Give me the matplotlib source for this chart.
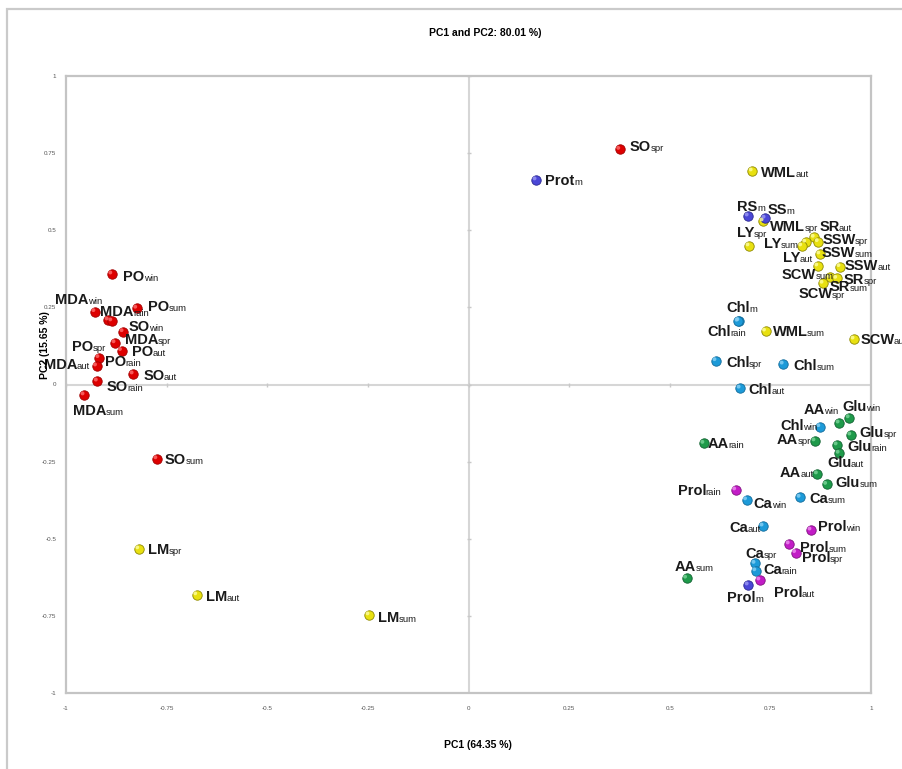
import matplotlib
matplotlib.use("Agg")
import matplotlib.pyplot as plt
from matplotlib.patches import Rectangle
from matplotlib.transforms import ScaledTranslation
from matplotlib.offsetbox import TextArea, HPacker, AnnotationBbox

plt.rcParams["font.family"] = ["Liberation Sans", "DejaVu Sans"]

# PC loadings per variable, grouped by marker colour ("name_season")
red_names = ["PO_win", "MDA_win", "MDA_rain", "PO_spr", "PO_sum", "SO_win", "MDA_spr",
             "PO_aut", "PO_rain", "MDA_aut", "SO_aut", "SO_rain", "MDA_sum", "SO_sum", "SO_spr"]
red_pc1 = [-0.886, -0.928, -0.895, -0.886, -0.824, -0.858, -0.878,
           -0.862, -0.918, -0.924, -0.833, -0.922, -0.955, -0.774, 0.376]
red_pc2 = [0.358, 0.236, 0.209, 0.206, 0.247, 0.171, 0.135,
           0.110, 0.087, 0.060, 0.034, 0.011, -0.034, -0.241, 0.762]

yellow_names = ["WML_aut", "WML_spr", "LY_spr", "SR_aut", "SSW_spr", "LY_sum", "LY_aut",
                "SSW_sum", "SCW_sum", "SSW_aut", "SR_sum", "SR_spr", "SCW_spr", "WML_sum",
                "SCW_aut", "LM_spr", "LM_aut", "LM_sum"]
yellow_pc1 = [0.705, 0.732, 0.697, 0.859, 0.869, 0.838, 0.828,
              0.873, 0.868, 0.923, 0.898, 0.915, 0.881, 0.738,
              0.958, -0.819, -0.675, -0.247]
yellow_pc2 = [0.692, 0.530, 0.449, 0.477, 0.463, 0.461, 0.449,
              0.423, 0.384, 0.382, 0.347, 0.344, 0.328, 0.173,
              0.147, -0.533, -0.682, -0.747]

violet_names = ["Prot_m", "RS_m", "SS_m", "Prol_m"]
violet_pc1 = [0.168, 0.695, 0.737, 0.695]
violet_pc2 = [0.663, 0.546, 0.539, -0.650]

cyan_names = ["Chl_m", "Chl_rain", "Chl_spr", "Chl_sum", "Chl_aut", "Chl_win",
              "Ca_win", "Ca_sum", "Ca_aut", "Ca_spr", "Ca_rain"]
cyan_pc1 = [0.672, 0.670, 0.615, 0.782, 0.675, 0.873, 0.691, 0.824, 0.732, 0.712, 0.714]
cyan_pc2 = [0.207, 0.205, 0.077, 0.066, -0.012, -0.137, -0.374, -0.366, -0.459, -0.580, -0.604]

green_names = ["AA_win", "Glu_win", "Glu_spr", "Glu_rain", "Glu_aut", "AA_spr",
               "AA_rain", "AA_aut", "Glu_sum", "AA_sum"]
green_pc1 = [0.921, 0.946, 0.950, 0.916, 0.921, 0.861, 0.585, 0.867, 0.890, 0.542]
green_pc2 = [-0.125, -0.108, -0.164, -0.196, -0.223, -0.183, -0.191, -0.290, -0.324, -0.628]

magenta_names = ["Prol_rain", "Prol_win", "Prol_sum", "Prol_spr", "Prol_aut"]
magenta_pc1 = [0.664, 0.851, 0.797, 0.813, 0.724]
magenta_pc2 = [-0.342, -0.472, -0.517, -0.545, -0.634]

ticks = [-1, -0.75, -0.5, -0.25, 0, 0.25, 0.5, 0.75, 1]
tick_labels = ["-1", "-0.75", "-0.5", "-0.25", "0", "0.25", "0.5", "0.75", "1"]

# where each label sits relative to its point, in pixels (x right, y up)
label_offset = {
    "PO_win": (11, -3), "MDA_win": (-40, 12), "MDA_rain": (-8, 8), "PO_spr": (-40, -26),
    "PO_sum": (11, 1), "SO_win": (5, 5), "MDA_spr": (10, 3), "PO_aut": (10, -1),
    "PO_rain": (6, -4), "MDA_aut": (-53, 1), "SO_aut": (10, -2), "SO_rain": (9, -6),
    "MDA_sum": (-11, -16), "SO_sum": (8, -1), "SO_spr": (10, 2),
    "WML_aut": (9, -2), "WML_spr": (7, -6), "LY_spr": (-12, 13), "SR_aut": (5, 10),
    "SSW_spr": (4, 2), "LY_sum": (-42, -2), "LY_aut": (-19, -12), "SSW_sum": (2, 1),
    "SCW_sum": (-36, -9), "SSW_aut": (5, 1), "SR_sum": (0, -10), "SR_spr": (7, -2),
    "SCW_spr": (-25, -11), "WML_sum": (7, -1), "SCW_aut": (6, -1),
    "LM_spr": (9, -1), "LM_aut": (9, -2), "LM_sum": (9, -3),
    "Prot_m": (9, -1), "RS_m": (-11, 9), "SS_m": (2, 8), "Prol_m": (-21, -13),
    "Chl_m": (-13, 13), "Chl_rain": (-31, -11), "Chl_spr": (10, -2), "Chl_sum": (10, -2),
    "Chl_aut": (8, -2), "Chl_win": (-40, 1), "Ca_win": (7, -4), "Ca_sum": (9, -2),
    "Ca_aut": (-34, -2), "Ca_spr": (-10, 9), "Ca_rain": (7, 1),
    "AA_win": (-36, 13), "Glu_win": (-7, 11), "Glu_spr": (9, 2), "Glu_rain": (10, -2),
    "Glu_aut": (-12, -10), "AA_spr": (-38, 1), "AA_rain": (4, -1), "AA_aut": (-38, 1),
    "Glu_sum": (9, 1), "AA_sum": (-12, 11),
    "Prol_rain": (-58, -1), "Prol_win": (7, 3), "Prol_sum": (11, -4), "Prol_spr": (6, -5),
    "Prol_aut": (14, -13),
}

groups = [
    (red_names, red_pc1, red_pc2, "#DD0000", "#A00000", "#FF7070"),
    (yellow_names, yellow_pc1, yellow_pc2, "#E8E010", "#8E8800", "#FFFFA0"),
    (violet_names, violet_pc1, violet_pc2, "#4A46D6", "#2A2890", "#9C9AF5"),
    (cyan_names, cyan_pc1, cyan_pc2, "#1C9AD8", "#106A9A", "#8AD2F5"),
    (green_names, green_pc1, green_pc2, "#1E9A4A", "#106030", "#7CD69A"),
    (magenta_names, magenta_pc1, magenta_pc2, "#C21CC6", "#801080", "#F090F2"),
]

fig = plt.figure(figsize=(9.02, 7.69), dpi=100)
ax = fig.add_axes([66 / 902, 1 - 693 / 769, 805 / 902, 617 / 769])

ax.set_xlim(-1, 1)
ax.set_ylim(-1, 1)
ax.set_xticks(ticks)
ax.set_xticklabels(tick_labels)
ax.set_yticks(ticks)
ax.set_yticklabels(tick_labels)
ax.tick_params(axis="x", length=0, labelsize=4.5, labelcolor="#555555", pad=9)
ax.tick_params(axis="y", length=0, labelsize=4.5, labelcolor="#555555", pad=7)
for sp in ax.spines.values():
    sp.set_color("#C4C4C4")
    sp.set_linewidth(1.6)

ax.axhline(0, color="#D6D6D6", lw=1.5, zorder=1)
ax.axvline(0, color="#D6D6D6", lw=1.5, zorder=1)
for t in ticks:
    ax.plot(t, 0, marker="|", ms=3, color="#C8C8C8", zorder=1)
    ax.plot(0, t, marker="_", ms=3, color="#C8C8C8", zorder=1)

shine = ax.transData + ScaledTranslation(-1.6 / 100, 1.6 / 100, fig.dpi_scale_trans)


def point_label(name, x, y):
    # bold variable name followed by a smaller season subscript on the same baseline
    base, sub = name.split("_")
    parts = [TextArea(base, textprops=dict(size=10.5, weight="bold", color="#1A1A1A")),
             TextArea(sub, textprops=dict(size=6.8, color="#1A1A1A"))]
    box = HPacker(children=parts, align="baseline", pad=0, sep=-0.3)
    ab = AnnotationBbox(box, (x, y), xybox=label_offset[name], boxcoords="offset pixels",
                        box_alignment=(0, 0.5), frameon=False, pad=0, zorder=5)
    ax.add_artist(ab)


for names, pc1, pc2, face, edge, light in groups:
    ax.scatter(pc1, pc2, s=46, c=face, edgecolors=edge, linewidths=0.6, zorder=3)
    ax.scatter(pc1, pc2, s=8, c=light, edgecolors="none", alpha=0.8, zorder=4,
               transform=shine)
    for name, x, y in zip(names, pc1, pc2):
        point_label(name, x, y)

fig.text(485 / 902, 1 - 33 / 769, "PC1 and PC2: 80.01 %)", ha="center", va="center",
         fontsize=7.5, fontweight="bold")
fig.text(478 / 902, 1 - 745 / 769, "PC1 (64.35 %)", ha="center", va="center",
         fontsize=7.5, fontweight="bold")
fig.text(45 / 902, 1 - 345 / 769, "PC2 (15.65 %)", ha="center", va="center",
         rotation=90, fontsize=7.5, fontweight="bold")

# chart-area frame, running off the right and bottom edges
fig.add_artist(Rectangle((7 / 902, -0.1), 1.2, 1.1 - 9 / 769, transform=fig.transFigure,
                         fill=False, ec="#CACACA", lw=1.6))

fig.savefig("out.png", dpi=100)
